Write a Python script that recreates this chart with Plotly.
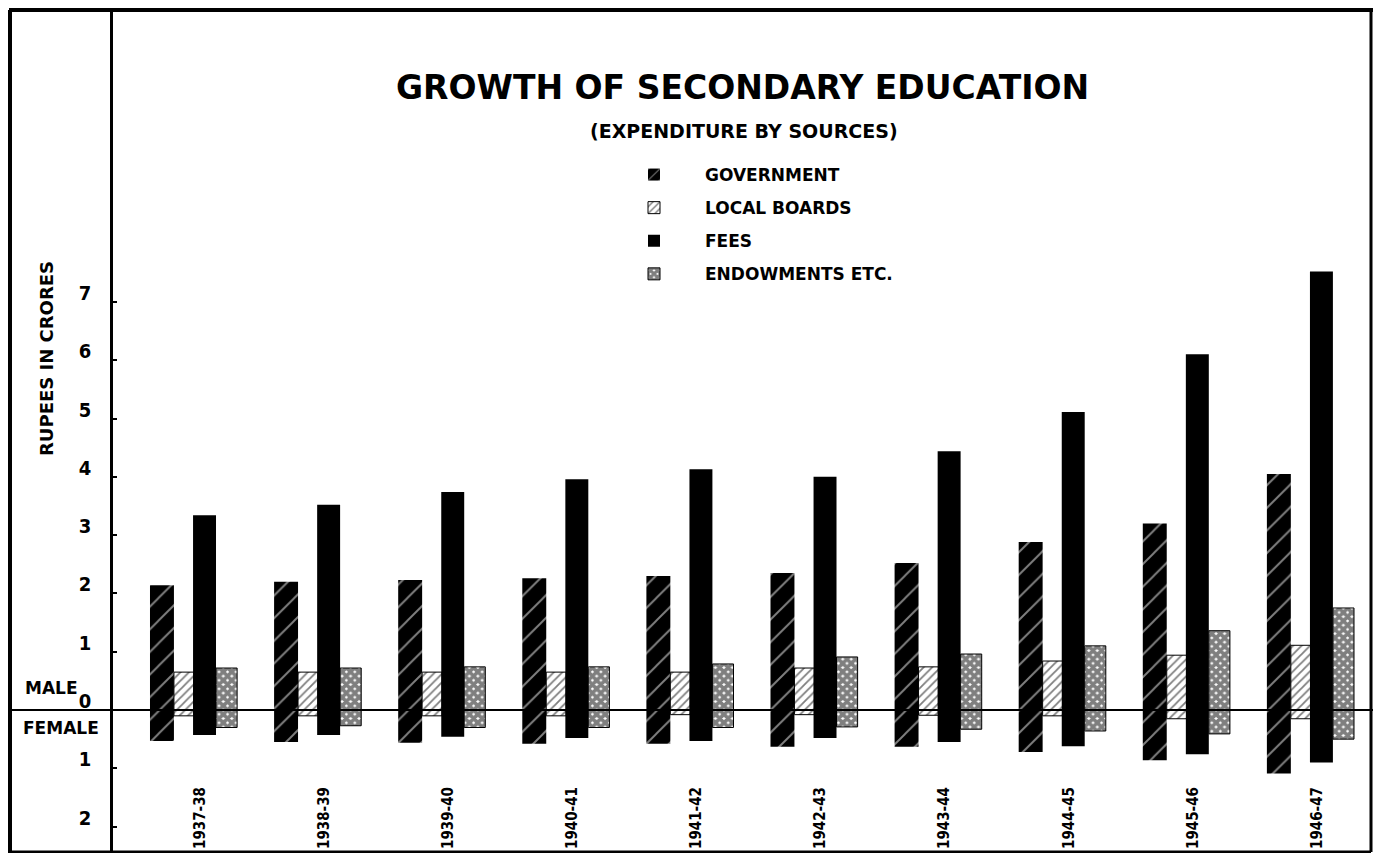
import plotly.graph_objects as go

years = ["1937-38", "1938-39", "1939-40", "1940-41", "1941-42",
         "1942-43", "1943-44", "1944-45", "1945-46", "1946-47"]

gov_male = [2.14, 2.20, 2.23, 2.26, 2.30, 2.35, 2.52, 2.88, 3.20, 4.05]
gov_female = [0.53, 0.55, 0.56, 0.58, 0.58, 0.63, 0.63, 0.72, 0.86, 1.09]
lb_male = [0.65, 0.65, 0.65, 0.65, 0.65, 0.72, 0.74, 0.84, 0.94, 1.11]
lb_female = [0.10, 0.10, 0.10, 0.10, 0.08, 0.08, 0.09, 0.10, 0.15, 0.15]
fees_male = [3.34, 3.52, 3.74, 3.96, 4.13, 4.00, 4.44, 5.11, 6.10, 7.52]
fees_female = [0.43, 0.43, 0.46, 0.48, 0.53, 0.48, 0.55, 0.62, 0.76, 0.90]
endow_male = [0.72, 0.72, 0.74, 0.74, 0.79, 0.91, 0.96, 1.10, 1.36, 1.75]
endow_female = [0.30, 0.27, 0.30, 0.30, 0.30, 0.29, 0.33, 0.36, 0.41, 0.50]

y_ticks = [-2, -1, 0, 1, 2, 3, 4, 5, 6, 7]
y_tick_text = ["2", "1", "0", "1", "2", "3", "4", "5", "6", "7"]

WIDE = "'DejaVu Sans', Roboto, sans-serif"
NARROW = "'Liberation Sans Narrow', 'DejaVu Sans Condensed', Roboto, sans-serif"
idx = list(range(len(years)))


def bar(name, male, female, offset, width, color, pattern=None, line=0):
    # male вверх от нуля, female вниз — один столбик от -female до +male
    return go.Bar(
        name=name,
        x=idx,
        y=[m + f for m, f in zip(male, female)],
        base=[-f for f in female],
        offset=offset,
        width=width,
        legendgroup=name,
        marker=dict(color=color, pattern=pattern,
                    line=dict(color="black", width=line)),
    )


fig = go.Figure()
fig.add_trace(bar("GOVERNMENT", gov_male, gov_female, -0.403, 0.193, "black",
                  dict(shape="/", fgcolor="white", bgcolor="black", size=16, solidity=0.12)))
fig.add_trace(bar("LOCAL BOARDS", lb_male, lb_female, -0.21, 0.16, "white",
                  dict(shape="/", fgcolor="black", bgcolor="white", size=6, solidity=0.3), line=1))
fig.add_trace(bar("FEES", fees_male, fees_female, -0.056, 0.185, "black"))
fig.add_trace(bar("ENDOWMENTS ETC.", endow_male, endow_female, 0.129, 0.17, "white",
                  dict(shape="x", fgcolor="black", bgcolor="white", size=6, solidity=0.85), line=1))

# страница имеет отступ 8px, поэтому фигура чуть меньше окна
W, H = 1365, 845
L, R, T, B = 105, 0, 2, 0
pw, ph = W - L - R, H - T - B
OFF = 8


def px(x):
    return (x - OFF - L) / pw


def py(y):
    return (H - B - (y - OFF)) / ph


bold = dict(color="black", weight="bold")

annotations = [
    dict(text="GROWTH OF SECONDARY EDUCATION", x=px(742), y=py(87),
         font=dict(bold, family=WIDE, size=33)),
    dict(text="(EXPENDITURE BY SOURCES)", x=px(744), y=py(131),
         font=dict(bold, family=WIDE, size=19)),
    dict(text="RUPEES IN CRORES", x=px(46), y=py(359), textangle=-90,
         font=dict(bold, family=WIDE, size=18)),
    dict(text="MALE", x=px(51), y=py(688), font=dict(bold, family=WIDE, size=17)),
    dict(text="FEMALE", x=px(61), y=py(728), font=dict(bold, family=WIDE, size=17)),
]
for a in annotations:
    a.update(xref="paper", yref="paper", showarrow=False,
             xanchor="center", yanchor="middle")

shapes = [
    # нулевая линия
    dict(type="line", xref="paper", yref="y", x0=px(10), x1=px(1381), y0=0, y1=0,
         line=dict(color="black", width=2), layer="above"),
    # рамка
    dict(type="line", xref="paper", yref="paper", x0=px(10), x1=px(10), y0=py(861), y1=py(10),
         line=dict(color="black", width=4)),
    dict(type="line", xref="paper", yref="paper", x0=px(9), x1=px(1381), y0=py(10), y1=py(10),
         line=dict(color="black", width=4)),
    dict(type="line", xref="paper", yref="paper", x0=px(1371), x1=px(1371), y0=py(10), y1=py(852),
         line=dict(color="black", width=3)),
    dict(type="line", xref="paper", yref="paper", x0=px(10), x1=px(1371), y0=py(852), y1=py(852),
         line=dict(color="black", width=3)),
]

fig.update_layout(
    width=W, height=H,
    margin=dict(l=L, r=R, t=T, b=B),
    paper_bgcolor="white", plot_bgcolor="white",
    barmode="overlay",
    font=dict(family=WIDE, color="black"),
    showlegend=True,
    legend=dict(x=px(603), y=py(157), xanchor="left", yanchor="top",
                bgcolor="rgba(0,0,0,0)", font=dict(bold, family=WIDE, size=17),
                itemwidth=92, traceorder="grouped", tracegroupgap=8),
    annotations=annotations,
    shapes=shapes,
    xaxis=dict(range=[(113 - 200) / 124.1, (1373 - 200) / 124.1],
               tickvals=idx, ticktext=years, tickangle=-90,
               anchor="free", position=py(783), ticks="", showline=False,
               showgrid=False, zeroline=False,
               tickfont=dict(bold, family=NARROW, size=15)),
    yaxis=dict(range=[-(853 - 710) / 58.3, (710 - 10) / 58.3],
               tickvals=y_ticks, ticktext=y_tick_text,
               ticks="inside", ticklen=4, tickwidth=2, tickcolor="black",
               showline=True, linecolor="black", linewidth=2.5,
               showgrid=False, zeroline=False, ticklabelstandoff=15,
               ticklabelshift=-9,
               tickfont=dict(bold, family=NARROW, size=20)),
)

fig.write_html("out.html")
